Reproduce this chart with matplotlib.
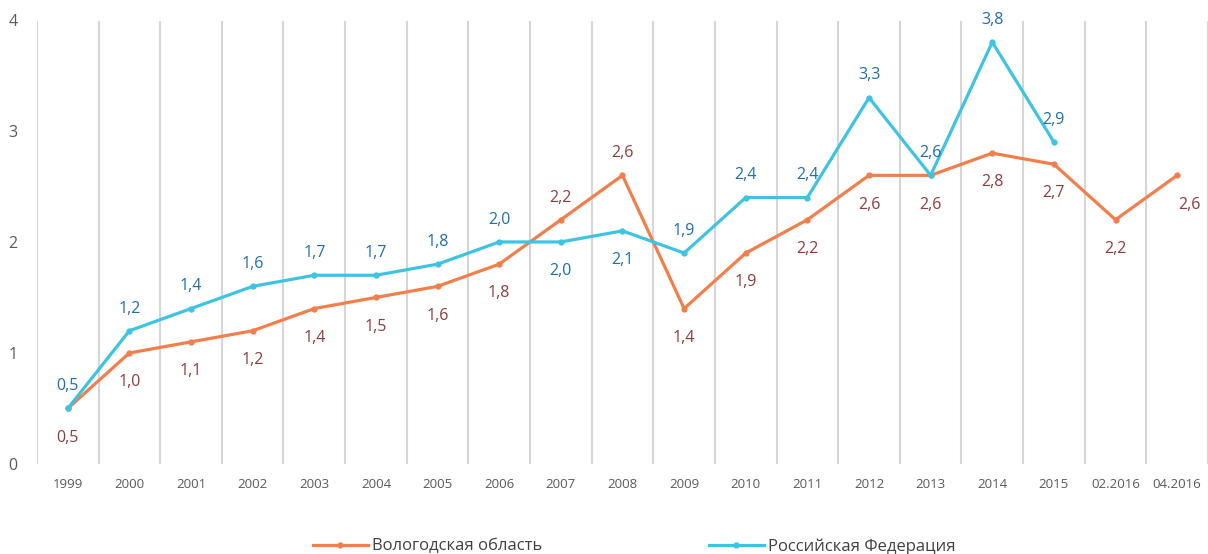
import numpy as np
import matplotlib.pyplot as plt

plt.rcParams['font.family'] = ['Open Sans', 'DejaVu Sans']

# categories and series
categories = ['1999', '2000', '2001', '2002', '2003', '2004', '2005', '2006', '2007', '2008',
              '2009', '2010', '2011', '2012', '2013', '2014', '2015', '02.2016', '04.2016']
vologda = [0.5, 1.0, 1.1, 1.2, 1.4, 1.5, 1.6, 1.8, 2.2, 2.6,
           1.4, 1.9, 2.2, 2.6, 2.6, 2.8, 2.7, 2.2, 2.6]
russia = [0.5, 1.2, 1.4, 1.6, 1.7, 1.7, 1.8, 2.0, 2.0, 2.1,
          1.9, 2.4, 2.4, 3.3, 2.6, 3.8, 2.9]

# label placement: True = above the point
vol_above = [False] * 19
vol_above[8] = True
vol_above[9] = True
rus_above = [True] * 17
rus_above[8] = False
rus_above[9] = False

c_vol = '#F07F4C'
c_rus = '#3EC3E2'
c_vol_lab = '#8E3B3B'
c_rus_lab = '#1F6DAD'

fig = plt.figure(figsize=(12.08, 5.54), dpi=100)
ax = fig.add_axes([0.0306, 0.1625, 0.9694, 0.8015])

x = np.arange(len(categories))
xr = np.arange(len(russia))

for b in np.arange(len(categories) + 1) - 0.5:
    ax.axvline(b, ymin=0, ymax=0.995, color='#D6D6D6', lw=1.5, zorder=0)

ax.plot(x, vologda, color=c_vol, lw=2.3, marker='o', ms=3.5, zorder=2,
        label='Вологодская область')
ax.plot(xr, russia, color=c_rus, lw=2.3, marker='o', ms=3.5, zorder=3,
        label='Российская Федерация')

def fmt(v):
    return ('%.1f' % v).replace('.', ',')

for i, v in enumerate(vologda):
    off = 16 if vol_above[i] else -21
    xo = 9 if i == len(vologda) - 1 else 0
    ax.annotate(fmt(v), (i, v), xytext=(xo, off), textcoords='offset points',
                ha='center', va='center', fontsize=11.5, color=c_vol_lab)
for i, v in enumerate(russia):
    off = 16 if rus_above[i] else -21
    ax.annotate(fmt(v), (i, v), xytext=(0, off), textcoords='offset points',
                ha='center', va='center', fontsize=11.5, color=c_rus_lab)

ax.set_xlim(-0.5, len(categories) - 0.5)
ax.set_ylim(0, 4)
ax.set_yticks([0, 1, 2, 3, 4])
ax.set_xticks(x)
ax.set_xticklabels(categories)
ax.tick_params(axis='both', length=0, colors='#595959')
ax.tick_params(axis='x', pad=10, labelsize=9.5)
ax.tick_params(axis='y', pad=14, labelsize=11.5)
for s in ax.spines.values():
    s.set_visible(False)

fig.legend(loc='lower center', bbox_to_anchor=(0.525, -0.028), ncol=2, frameon=False,
           fontsize=12, handlelength=3.3, columnspacing=10, handletextpad=0.25,
           labelcolor='#404040')

fig.savefig('out.png', dpi=100)
